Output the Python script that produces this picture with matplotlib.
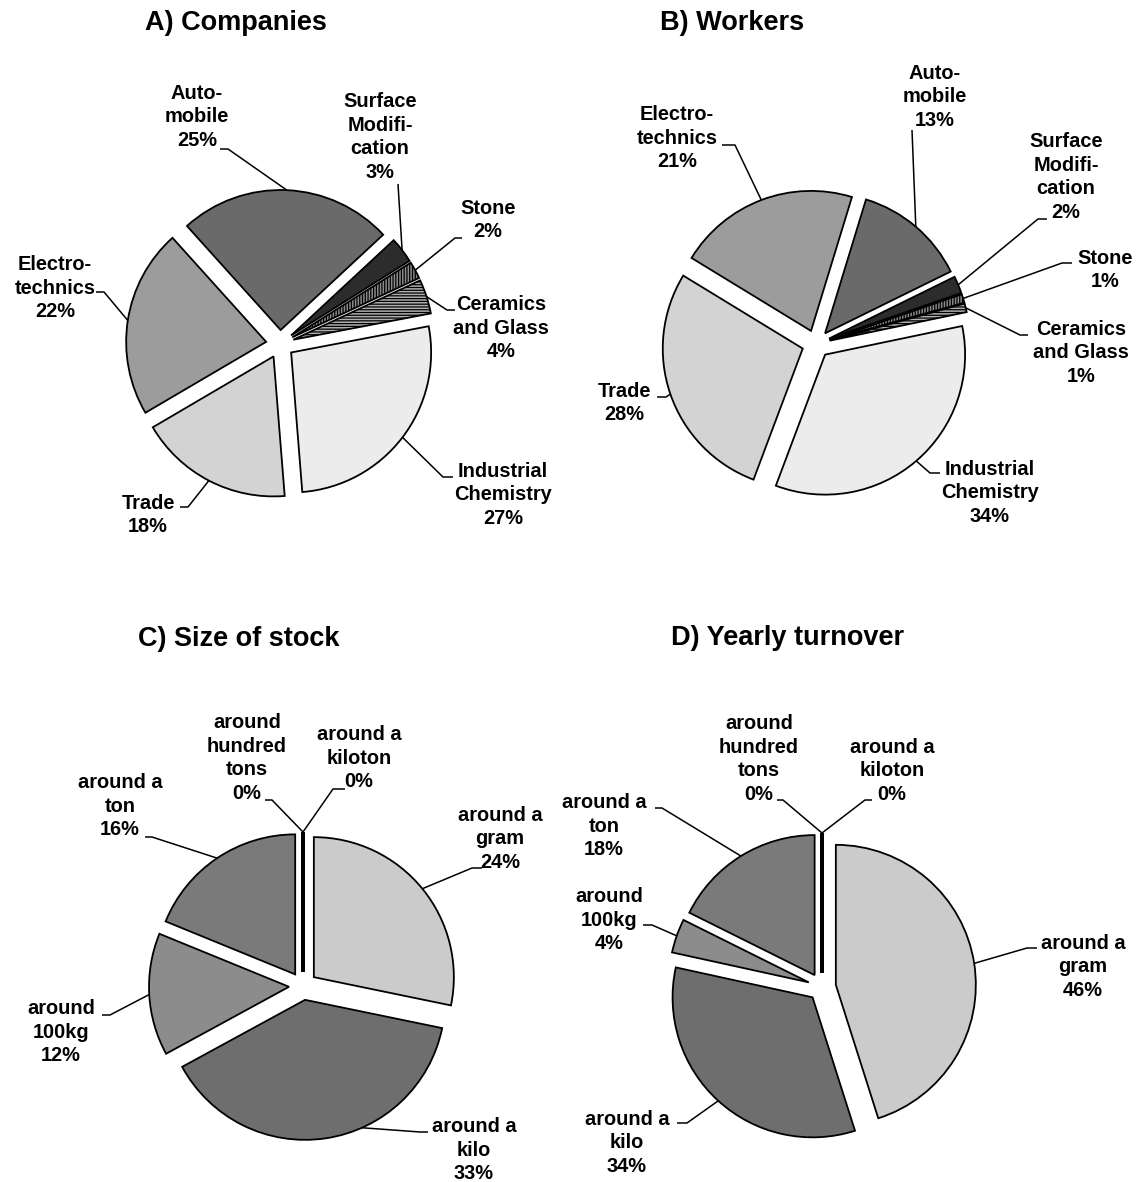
import numpy as np
import matplotlib
matplotlib.use('Agg')
from matplotlib import pyplot as plt

W, H = 1136, 1182

# data
sectors = ['Auto-\nmobile', 'Surface\nModifi-\ncation', 'Stone',
           'Ceramics\nand Glass', 'Industrial\nChemistry', 'Trade',
           'Electro-\ntechnics']
companies = [25, 3, 2, 4, 27, 18, 22]
workers = [13, 2, 1, 1, 34, 28, 21]

amounts = ['around a\ngram', 'around a\nkilo', 'around\n100kg', 'around a\nton',
           'around\nhundred\ntons', 'around a\nkiloton']
stock = [24, 33, 12, 16, 0, 0]
turnover = [46, 34, 4, 18, 0, 0]

# styles
sector_fill = ['#6a6a6a', '#2c2c2c', '#8a8a8a', '#b0b0b0', '#ececec', '#d3d3d3', '#9c9c9c']
sector_hatch = [None, None, '||||||', '------', None, None, None]
amount_fill = ['#cbcbcb', '#6e6e6e', '#8c8c8c', '#7a7a7a', 'black', 'black']
amount_hatch = [None, None, None, None, None, None]

# layout, image pixel coords: label centre, leader points
layout_A = [((197, 117), [(220, 149), (228, 149)]),
            ((380, 137), [(398, 184)]),
            ((488, 220), [(462, 238), (455, 238)]),
            ((501, 328), [(455, 310), (447, 310)]),
            ((503, 495), [(453, 477), (443, 477)]),
            ((148, 515), [(180, 507), (188, 507)]),
            ((55, 288), [(96, 292), (104, 292)])]
layout_B = [((935, 97), [(912, 130)]),
            ((1066, 177), [(1047, 219), (1038, 219)]),
            ((1105, 270), [(1072, 263), (1062, 263)]),
            ((1081, 353), [(1028, 335), (1020, 335)]),
            ((990, 493), [(940, 473), (930, 473)]),
            ((624, 403), [(657, 397), (666, 397)]),
            ((677, 138), [(722, 145), (735, 145)])]
layout_C = [((500, 839), [(482, 868), (472, 868)]),
            ((474, 1150), [(428, 1132), (420, 1132)], -66),
            ((61, 1032), [(102, 1015), (110, 1015)]),
            ((120, 806), [(145, 837), (152, 837)]),
            ((247, 758), [(265, 800), (272, 800)]),
            ((359, 758), [(345, 789), (333, 789)])]
layout_D = [((1083, 967), [(1037, 948), (1027, 948)]),
            ((627, 1143), [(677, 1123), (687, 1123)]),
            ((609, 920), [(643, 925), (652, 925)]),
            ((604, 826), [(655, 808), (662, 808)]),
            ((759, 759), [(777, 800), (783, 800)]),
            ((892, 771), [(872, 800), (865, 800)])]

FONT = 'Liberation Sans'
LABEL_SIZE = 14.4
R = 140
EXPLODE = 14


def Y(y):
    return H - y


def draw_pie(ax, title, title_xy, names, values, fills, hatches, centre,
             start, layout):
    wedges, _ = ax.pie(values, explode=[EXPLODE] * len(values), radius=R,
                       center=(centre[0], Y(centre[1])), startangle=start,
                       counterclock=False, colors=fills,
                       wedgeprops=dict(edgecolor='black', linewidth=1.3))
    for w, h, v in zip(wedges, hatches, values):
        if h:
            w.set_hatch(h)
        if v == 0:
            w.set_linewidth(2.8)
    for w, name, v, lay in zip(wedges, names, values, layout):
        (tx, ty), pts = lay[0], lay[1]
        ang = np.radians(lay[2] if len(lay) > 2 else 0.5 * (w.theta1 + w.theta2))
        cx, cy = w.center
        rim = (cx + w.r * np.cos(ang), cy + w.r * np.sin(ang))
        xs = [p[0] for p in pts] + [rim[0]]
        ys = [Y(p[1]) for p in pts] + [rim[1]]
        ax.plot(xs, ys, color='black', lw=1.1, solid_capstyle='butt')
        ax.text(tx, Y(ty), '{}\n{}%'.format(name, v), ha='center', va='center',
                multialignment='center', fontsize=LABEL_SIZE,
                fontweight='bold', family=FONT, linespacing=1.32)
    ax.text(title_xy[0], Y(title_xy[1]), title, ha='center', va='center',
            fontsize=19.5, fontweight='bold', family=FONT)


if __name__ == '__main__':
    plt.rcParams['hatch.linewidth'] = 0.9
    fig = plt.figure(figsize=(W / 100, H / 100), dpi=100)
    ax = fig.add_axes([0, 0, 1, 1])
    draw_pie(ax, 'A) Companies', (236, 23), sectors, companies, sector_fill,
             sector_hatch, (280, 344), 132, layout_A)
    draw_pie(ax, 'B) Workers', (732, 23), sectors, workers, sector_fill,
             sector_hatch, (816, 344), 73, layout_B)
    draw_pie(ax, 'C) Size of stock', (239, 639), amounts, stock, amount_fill,
             amount_hatch, (303, 986), 90, layout_C)
    draw_pie(ax, 'D) Yearly turnover', (788, 638), amounts, turnover,
             amount_fill, amount_hatch, (822, 987), 90, layout_D)
    ax.set_xlim(0, W)
    ax.set_ylim(0, H)
    ax.set_aspect('auto')
    ax.axis('off')
    fig.savefig('out.png', dpi=100, facecolor='white')
